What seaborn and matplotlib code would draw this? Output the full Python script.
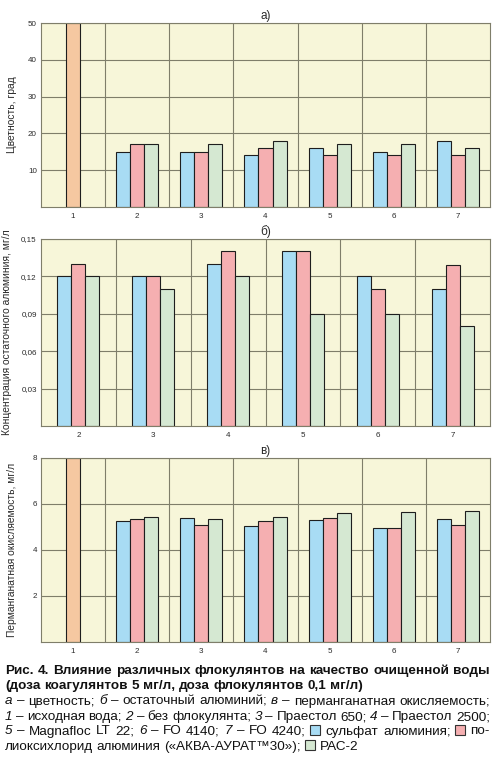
import numpy as np
import pandas as pd
import matplotlib
matplotlib.use('Agg')
import matplotlib.pyplot as plt
import seaborn as sns
from matplotlib.patches import Rectangle

sns.set_theme(style='white')
plt.rcParams['font.family'] = ['Liberation Sans', 'DejaVu Sans']

# categories
groups = ['1', '2', '3', '4', '5', '6', '7']
coagulants = ['сульфат алюминия', 'полиоксихлорид алюминия', 'РАС-2']

# а) цветность, град
color_source = 50
color_sulfate = [15, 15, 14, 16, 15, 18]
color_pac = [17, 15, 16, 14, 14, 14]
color_pac2 = [17, 17, 18, 17, 17, 16]

# б) остаточный алюминий, мг/л
al_sulfate = [0.12, 0.12, 0.13, 0.14, 0.12, 0.11]
al_pac = [0.13, 0.12, 0.14, 0.14, 0.11, 0.129]
al_pac2 = [0.12, 0.11, 0.12, 0.09, 0.09, 0.08]

# в) перманганатная окисляемость, мг/л
ox_source = 8.0
ox_sulfate = [5.28, 5.39, 5.04, 5.30, 4.96, 5.33]
ox_pac = [5.33, 5.10, 5.28, 5.39, 4.96, 5.10]
ox_pac2 = [5.45, 5.33, 5.45, 5.61, 5.64, 5.68]

bar_colors = ['#a8dcf4', '#f5afb1', '#d5e8d2']
source_color = '#f5c8a1'
bg = '#f7f6d9'
grid_c = '#7f7e6a'
edge = '#1e1e1e'
txt = '#2a2a2a'

W, H = 500, 772


def long_df(sulfate, pac, pac2):
    rows = []
    for i, g in enumerate(groups[1:]):
        for k, vals in zip(coagulants, [sulfate, pac, pac2]):
            rows.append({'g': g, 'k': k, 'v': vals[i]})
    return pd.DataFrame(rows)


def panel(rect, order, df, source, bar_w, ymax, yticks, ylabels, ylabel, title, lab_x):
    ax = fig.add_axes(rect)
    ax.set_facecolor(bg)
    ax.set_axisbelow(True)
    if source is not None:
        sns.barplot(data=pd.DataFrame({'g': ['1'], 'v': [source]}), x='g', y='v',
                    order=order, color=source_color, saturation=1, width=bar_w,
                    edgecolor=edge, linewidth=0.8, ax=ax)
    sns.barplot(data=df, x='g', y='v', hue='k', order=order, hue_order=coagulants,
                palette=dict(zip(coagulants, bar_colors)), saturation=1,
                width=3 * bar_w, edgecolor=edge, linewidth=0.8, legend=False, ax=ax)
    n = len(order)
    ax.set_xlim(-0.5, n - 0.5)
    ax.set_ylim(0, ymax)
    ax.set_yticks(yticks)
    ax.set_yticklabels(ylabels)
    ax.yaxis.grid(True, color=grid_c, lw=0.8)
    for b in range(n - 1):
        ax.axvline(b + 0.5, color=grid_c, lw=0.8, zorder=0.5)
    for s in ax.spines.values():
        s.set_color(grid_c)
        s.set_linewidth(0.8)
    ax.tick_params(length=0, labelsize=5.8, colors=txt, pad=3)
    ax.tick_params(axis='x', pad=4.5)
    ax.set_xlabel('')
    ax.set_ylabel(ylabel, fontsize=7.4, color=txt)
    ax.yaxis.set_label_coords(lab_x, 0.5)
    ax.set_title(title, fontsize=8.5, color=txt, pad=3)
    return ax


fig = plt.figure(figsize=(W / 100, H / 100), dpi=100)
fig.patch.set_facecolor('white')


def frac(top, bottom):
    return [41 / W, 1 - bottom / H, 449 / W, (bottom - top) / H]


panel(frac(23, 207), groups, long_df(color_sulfate, color_pac, color_pac2), color_source,
      0.219, 50, [10, 20, 30, 40, 50], ['10', '20', '30', '40', '50'],
      'Цветность, град', 'а)', -0.054)
panel(frac(239, 426), groups[1:], long_df(al_sulfate, al_pac, al_pac2), None,
      0.187, 0.15, [0.03, 0.06, 0.09, 0.12, 0.15], ['0,03', '0,06', '0,09', '0,12', '0,15'],
      'Концентрация остаточного алюминия, мг/л', 'б)', -0.064)
panel(frac(458, 642), groups, long_df(ox_sulfate, ox_pac, ox_pac2), ox_source,
      0.219, 8, [2, 4, 6, 8], ['2', '4', '6', '8'],
      'Перманганатная окисляемость, мг/л', 'в)', -0.054)

# caption
cap_fs = 9.7
caption = [
    ('Рис. 4. Влияние различных флокулянтов на качество очищенной воды', 'bold', True),
    ('(доза коагулянтов 5 мг/л, доза флокулянтов 0,1 мг/л)', 'bold', False),
    ('*а* – цветность; *б* – остаточный алюминий; *в* – перманганатная окисляемость;', 'normal', True),
    ('*1* – исходная вода; *2* – без флокулянта; *3* – Праестол 650; *4* – Праестол 2500;', 'normal', True),
    ('*5* – Magnafloc LT 22; *6* – FO 4140; *7* – FO 4240; #0 сульфат алюминия; #1 по-', 'normal', True),
    ('лиоксихлорид алюминия («АКВА-АУРАТ™30»); #2 РАС-2', 'normal', False),
]
baselines = [674, 689, 704.5, 720, 734.5, 750]
left_px, right_px = 5, 490
renderer = fig.canvas.get_renderer()
space = 0.278 * cap_fs * 100 / 72
box = 10


def parse(line):
    words, it = [], False
    for w in line.split(' '):
        pieces, buf = [], ''
        for ch in w:
            if ch == '*':
                if buf:
                    pieces.append((buf, it))
                    buf = ''
                it = not it
            else:
                buf += ch
        if buf:
            pieces.append((buf, it))
        words.append(pieces)
    return words


for (line, weight, justify), base in zip(caption, baselines):
    words = parse(line)
    items = []
    for pieces in words:
        objs = []
        wsum = 0
        for text, it in pieces:
            if text.startswith('#'):
                objs.append(('box', int(text[1:]), box + 1))
                wsum += box + 1
            else:
                t = fig.text(0, 0, text, fontsize=cap_fs, weight=weight,
                             style='italic' if it else 'normal', color='#111',
                             ha='left', va='baseline')
                w = t.get_window_extent(renderer).width
                objs.append(('text', t, w))
                wsum += w
        items.append((objs, wsum))
    total = sum(w for _, w in items)
    gap = (right_px - left_px - total) / (len(items) - 1) if justify else space
    x = left_px
    for objs, wsum in items:
        for kind, o, w in objs:
            if kind == 'box':
                fig.patches.append(Rectangle((x / W, 1 - base / H), box / W, box / H,
                                             transform=fig.transFigure, facecolor=bar_colors[o],
                                             edgecolor='#333', lw=0.8))
            else:
                o.set_position((x / W, 1 - base / H))
            x += w
        x += gap

fig.savefig('out.png', dpi=100)
